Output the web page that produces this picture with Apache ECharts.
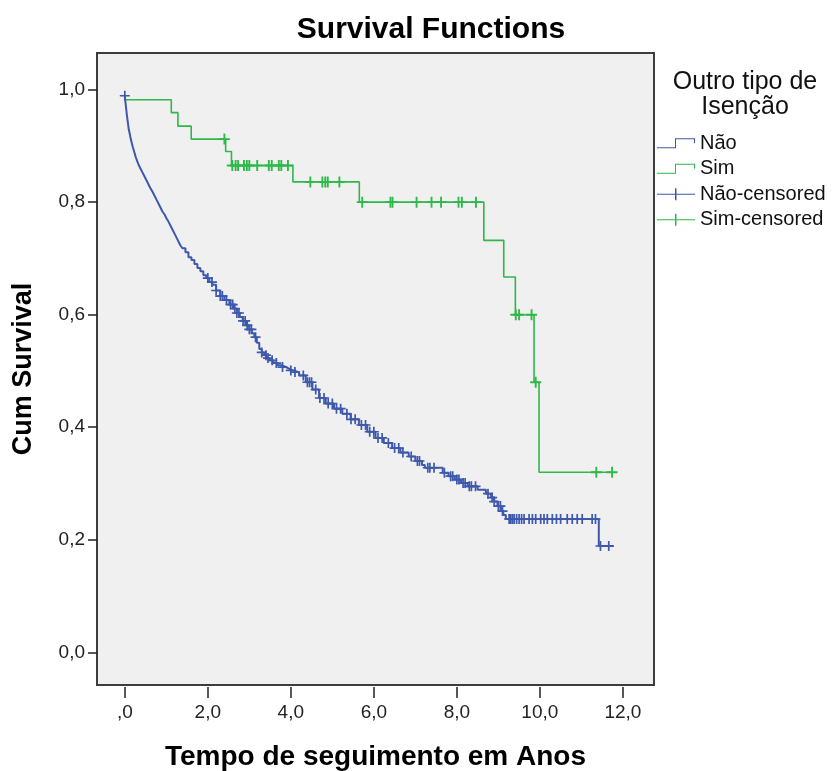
<!DOCTYPE html>
<html>
<head>
<meta charset="utf-8">
<script src="https://cdn.jsdelivr.net/npm/echarts@6/dist/echarts.min.js"></script>
<style>
  html, body { margin: 0; padding: 0; background: #fff; }
  #chart { width: 835px; height: 771px; }
</style>
</head>
<body>
<div id="chart"></div>
<script>
// Não group: step curve (time in years, cumulative survival)
const naoTimes = [0, 0.024, 0.048, 0.072, 0.096, 0.120, 0.144, 0.168, 0.192, 0.228, 0.263, 0.299, 0.335,
  0.383, 0.431, 0.479, 0.527, 0.575, 0.623, 0.671, 0.719, 0.766, 0.814, 0.862, 0.910, 0.958, 1.006,
  1.054, 1.102, 1.150, 1.198, 1.246, 1.293, 1.341, 1.389, 1.461, 1.533, 1.605, 1.677, 1.749, 1.820,
  1.892, 1.964, 2.036, 2.108, 2.20, 2.30, 2.40, 2.52, 2.61, 2.70, 2.77, 2.84, 2.92, 3.00, 3.06, 3.12,
  3.18, 3.24, 3.30, 3.36, 3.42, 3.48, 3.58, 3.68, 3.78, 3.88, 3.96, 4.05, 4.20, 4.36, 4.52, 4.68,
  4.84, 5.04, 5.24, 5.44, 5.64, 5.84, 6.04, 6.24, 6.44, 6.64, 6.84, 7.00, 7.16, 7.23, 7.66,
  7.80, 7.95, 8.10, 8.26, 8.50, 8.70, 8.82, 8.90, 8.98, 9.06, 9.12, 9.18, 11.42, 11.78]
const naoSurv = [0.989, 0.972, 0.956, 0.942, 0.929, 0.921, 0.912, 0.905, 0.898, 0.889, 0.880, 0.873, 0.866,
  0.859, 0.852, 0.845, 0.838, 0.831, 0.824, 0.818, 0.811, 0.804, 0.797, 0.790, 0.783, 0.778, 0.771,
  0.765, 0.758, 0.751, 0.744, 0.737, 0.730, 0.723, 0.718, 0.711, 0.702, 0.697, 0.690, 0.683, 0.677,
  0.670, 0.665, 0.658, 0.653, 0.643, 0.633, 0.626, 0.618, 0.611, 0.603, 0.596, 0.589, 0.581, 0.574, 0.567, 0.560,
  0.550, 0.539, 0.533, 0.528, 0.523, 0.519, 0.514, 0.510, 0.507, 0.504, 0.501, 0.498, 0.492, 0.480, 0.467, 0.452,
  0.442, 0.433, 0.424, 0.414, 0.404, 0.392, 0.381, 0.372, 0.363, 0.355, 0.348, 0.340, 0.333, 0.328, 0.319,
  0.313, 0.307, 0.301, 0.295, 0.289, 0.282, 0.275, 0.268, 0.260, 0.251, 0.244, 0.237, 0.189, 0.189]

// Sim group
const simTimes = [0, 1.12, 1.28, 1.60, 2.43, 2.57, 4.05, 5.65, 8.65, 9.13, 9.41, 9.86, 9.98, 11.74]
const simSurv = [0.982, 0.959, 0.935, 0.912, 0.890, 0.865, 0.836, 0.800, 0.732, 0.667, 0.600, 0.480, 0.320, 0.320]

// censored cases (times)
const naoCensorTimes = [0.0, 2.0, 2.1, 2.2, 2.3, 2.35, 2.45, 2.55, 2.6, 2.65, 2.7, 2.75, 2.85, 2.9, 2.95, 3.0, 3.05, 3.15,
  3.3, 3.4, 3.45, 3.55, 3.65, 3.8, 4.0, 4.1, 4.3, 4.4, 4.45, 4.5, 4.6, 4.7, 4.8, 4.9, 5.0, 5.1, 5.2,
  5.35, 5.45, 5.55, 5.7, 5.8, 5.9, 6.0, 6.1, 6.2, 6.35, 6.5, 6.6, 6.7, 6.9, 7.05, 7.1, 7.3, 7.35, 7.45,
  7.7, 7.85, 7.9, 8.0, 8.05, 8.15, 8.2, 8.3, 8.35, 8.45, 8.75, 8.85, 8.9, 9.0, 9.05, 9.1, 9.26, 9.3,
  9.34, 9.38, 9.44, 9.50, 9.56, 9.62, 9.74, 9.82, 9.90, 10.02, 10.10, 10.18, 10.30, 10.40, 10.50,
  10.66, 10.78, 10.90, 11.02, 11.26, 11.34, 11.46, 11.66]
const simCensorTimes = [2.40, 2.59, 2.67, 2.73, 2.87, 2.94, 3.00, 3.19, 3.47, 3.54, 3.71, 3.77, 3.93,
  4.47, 4.76, 4.83, 4.89, 5.17, 5.72, 6.40, 6.45, 7.03, 7.39, 7.62, 8.04, 8.12, 8.46,
  9.42, 9.50, 9.80, 9.90, 11.36, 11.74]

const xTicks = [0, 2, 4, 6, 8, 10, 12]
const yTicks = [0, 0.2, 0.4, 0.6, 0.8, 1.0]

const BLUE = '#3E58AC'
const GREEN = '#2EB848'
const FONT = '"Liberation Sans", Arial, sans-serif'

function toPairs(ts, ss) {
  return ts.map((t, i) => [t, ss[i]])
}
// survival value of a step curve at time t
function survAt(ts, ss, t) {
  let s = ss[0]
  for (let i = 0; i < ts.length; i++) {
    if (ts[i] <= t) s = ss[i]
  }
  return s
}

const plusPath = 'path://M-1,-0.17H1V0.17H-1Z M-0.17,-1H0.17V1H-0.17Z'
const stepIcon = 'path://M0,9H18V0H38V5H37V1H19V10H0Z'
const censorIcon = 'path://M0,5.5H38V6.5H0Z M18,0H19.5V12H18Z'

const chart = echarts.init(document.getElementById('chart'))
chart.setOption({
  animation: false,
  backgroundColor: '#fff',
  grid: {
    left: 97, right: 181, top: 53, bottom: 86,
    containLabel: false,
    outerBoundsMode: 'none',
    show: true,
    backgroundColor: '#F0F0F0',
    borderColor: '#3c3c3c',
    borderWidth: 2
  },
  graphic: [
    {
      type: 'text', x: 431, y: 30,
      style: { text: 'Survival Functions', font: 'bold 30px ' + FONT, fill: '#000',
        align: 'center', verticalAlign: 'middle', textAlign: 'center', textVerticalAlign: 'middle' }
    },
    {
      type: 'text', x: 745, y: 82,
      style: { text: 'Outro tipo de', font: '25px ' + FONT, fill: '#111',
        align: 'center', verticalAlign: 'middle', textAlign: 'center', textVerticalAlign: 'middle' }
    },
    {
      type: 'text', x: 745, y: 107,
      style: { text: 'Isenção', font: '25px ' + FONT, fill: '#111',
        align: 'center', verticalAlign: 'middle', textAlign: 'center', textVerticalAlign: 'middle' }
    }
  ],
  legend: {
    orient: 'vertical',
    left: 657,
    top: 133,
    itemWidth: 38,
    itemHeight: 12,
    itemGap: 5,
    padding: 0,
    itemStyle: { borderWidth: 0 },
    textStyle: { fontFamily: FONT, fontSize: 20, lineHeight: 20.5, color: '#111' },
    data: [
      { name: 'Não', icon: stepIcon },
      { name: 'Sim', icon: stepIcon },
      { name: 'Não-censored', icon: censorIcon },
      { name: 'Sim-censored', icon: censorIcon }
    ],
    selectedMode: false
  },
  xAxis: {
    type: 'value',
    min: -0.67,
    max: 12.75,
    offset: 2,
    name: 'Tempo de seguimento em Anos',
    nameLocation: 'middle',
    nameGap: 56,
    nameTextStyle: { fontFamily: FONT, fontSize: 28, fontWeight: 'bold', color: '#000' },
    axisLine: { show: false, onZero: false },
    axisTick: { show: true, customValues: xTicks, length: 11, lineStyle: { color: '#222', width: 1.5 } },
    axisLabel: {
      customValues: xTicks,
      margin: 16,
      fontFamily: FONT, fontSize: 19, color: '#222',
      formatter: v => (v === 0 ? ',0' : v.toFixed(1).replace('.', ','))
    },
    splitLine: { show: false }
  },
  yAxis: {
    type: 'value',
    min: -0.058,
    max: 1.065,
    name: 'Cum Survival',
    nameLocation: 'middle',
    nameGap: 60,
    nameTextStyle: { fontFamily: FONT, fontSize: 27, fontWeight: 'bold', color: '#000' },
    axisLine: { show: false, onZero: false },
    axisTick: { show: true, customValues: yTicks, length: 9, lineStyle: { color: '#222', width: 1.5 } },
    axisLabel: {
      customValues: yTicks,
      margin: 12,
      fontFamily: FONT, fontSize: 19, color: '#222',
      formatter: v => v.toFixed(1).replace('.', ',')
    },
    splitLine: { show: false }
  },
  series: [
    {
      name: 'Não', type: 'line', step: 'end', showSymbol: false, symbol: 'none',
      data: toPairs(naoTimes, naoSurv),
      lineStyle: { color: BLUE, width: 2 }, itemStyle: { color: BLUE },
      silent: true, z: 2
    },
    {
      name: 'Sim', type: 'line', step: 'end', showSymbol: false, symbol: 'none',
      data: toPairs(simTimes, simSurv),
      lineStyle: { color: GREEN, width: 1.6 }, itemStyle: { color: GREEN },
      silent: true, z: 2
    },
    {
      name: 'Não-censored', type: 'scatter', symbol: plusPath, symbolSize: 10,
      data: naoCensorTimes.map(t => [t, survAt(naoTimes, naoSurv, t)]),
      itemStyle: { color: BLUE, opacity: 1 }, silent: true, z: 3
    },
    {
      name: 'Sim-censored', type: 'scatter', symbol: plusPath, symbolSize: 11,
      data: simCensorTimes.map(t => [t, survAt(simTimes, simSurv, t)]),
      itemStyle: { color: GREEN, opacity: 1 }, silent: true, z: 3
    }
  ]
})
window.addEventListener('resize', () => {
  chart.resize()
})
</script>
</body>
</html>
